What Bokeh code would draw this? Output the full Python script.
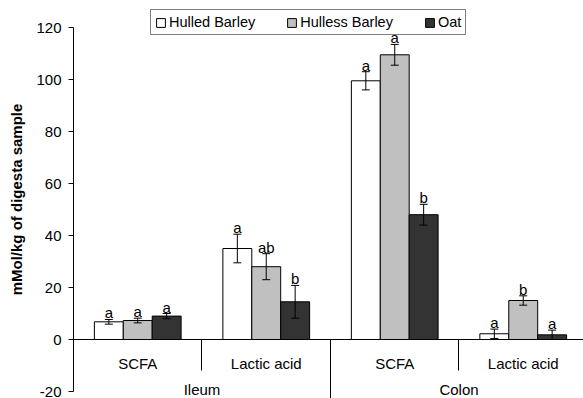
import numpy as np
from bokeh.plotting import figure
from bokeh.models import (ColumnDataSource, Range1d, LinearAxis, FixedTicker,
                          Whisker, TeeHead, Legend, LegendItem)
from bokeh.core.properties import value
from bokeh.embed import file_html
from bokeh.resources import INLINE

# ---------------- data ----------------
sites = ["Ileum", "Ileum", "Colon", "Colon"]
acids = ["SCFA", "Lactic acid", "SCFA", "Lactic acid"]
series = ["Hulled Barley", "Hulless Barley", "Oat"]

hulled = [6.8, 35.0, 99.5, 2.2]
hulled_err = [0.9, 5.5, 3.5, 1.8]
hulless = [7.3, 28.0, 109.5, 15.0]
hulless_err = [0.9, 5.0, 4.0, 1.8]
oat = [9.0, 14.5, 48.0, 1.8]
oat_err = [1.0, 6.3, 4.0, 1.8]

hulled_sig = ["a", "a", "a", "a"]
hulless_sig = ["a", "ab", "a", "b"]
oat_sig = ["a", "b", "b", "a"]

y_ticks = [-20, 0, 20, 40, 60, 80, 100, 120]

# ---------------- styling ----------------
FONT = "Liberation Sans"
colors = ["#FFFFFF", "#C0C0C0", "#333333"]
bar_w = 0.225

pos = np.arange(len(acids))
offsets = (np.arange(len(series)) - (len(series) - 1) / 2) * bar_w

inner_bounds = [i - 0.5 for i in range(1, len(sites)) if sites[i] == sites[i - 1]]
site_bounds = [i - 0.5 for i in range(1, len(sites)) if sites[i] != sites[i - 1]]
site_names = list(dict.fromkeys(sites))
site_centers = [float(np.mean([p_ for p_, s in zip(pos, sites) if s == n])) for n in site_names]

# frame spans the whole canvas height so nothing drawn in it is clipped;
# -20 .. 120 keeps 2.6 px per unit with 120 at 27 px and -20 at 391 px
px_per_unit = 364 / 140.0
y_lo = min(y_ticks) - 7 / px_per_unit
y_hi = max(y_ticks) + 27 / px_per_unit

p = figure(frame_width=510, frame_height=398,
           x_range=Range1d(-0.5, 3.469), y_range=Range1d(y_lo, y_hi),
           output_backend="svg", toolbar_location=None, x_axis_location=None,
           min_border_left=73, min_border_right=0, min_border_top=0, min_border_bottom=0)
p.grid.visible = False
p.outline_line_color = None
p.background_fill_color = "white"

# y axis
ya = p.yaxis[0]
ya.ticker = FixedTicker(ticks=y_ticks)
ya.bounds = (min(y_ticks), max(y_ticks))
ya.major_label_overrides = {t: str(t) for t in y_ticks}
ya.major_tick_in = 0
ya.major_tick_out = 5
ya.minor_tick_line_color = None
ya.axis_line_color = "black"
ya.major_tick_line_color = "black"
ya.major_label_text_font = FONT
ya.major_label_text_font_size = "15px"
ya.major_label_text_color = "black"
ya.major_label_standoff = 7
ya.axis_label = "mMol/kg of digesta sample"
ya.axis_label_text_font = FONT
ya.axis_label_text_font_size = "15px"
ya.axis_label_text_font_style = "bold"
ya.axis_label_text_color = "black"
ya.axis_label_standoff = 8

values = [hulled, hulless, oat]
errors = [hulled_err, hulless_err, oat_err]
sigs = [hulled_sig, hulless_sig, oat_sig]

renderers = []
for k, name in enumerate(series):
    v = np.array(values[k], dtype=float)
    e = np.array(errors[k], dtype=float)
    src = ColumnDataSource(dict(x=pos + offsets[k], top=v, upper=v + e, lower=v - e, sig=sigs[k]))
    r = p.vbar(x="x", top="top", bottom=0, width=bar_w, source=src,
               fill_color=colors[k], line_color="black", line_width=1)
    renderers.append(r)
    w = Whisker(source=src, base="x", upper="upper", lower="lower", dimension="height",
                line_color="black", line_width=1, level="annotation",
                upper_head=TeeHead(size=8, line_color="black", line_width=1),
                lower_head=TeeHead(size=8, line_color="black", line_width=1))
    p.add_layout(w)
    p.text(x="x", y="upper", text="sig", source=src, text_align="center",
           text_baseline="bottom", y_offset=2,
           text_font=value(FONT), text_font_size=value("15px"), text_color="black")

# bottom axes, all fixed at y = 0
ax_line = LinearAxis(fixed_location=0, ticker=FixedTicker(ticks=inner_bounds),
                     major_tick_in=0, major_tick_out=31, major_tick_line_color="black",
                     minor_tick_line_color=None, axis_line_color="black",
                     major_label_text_color=None)
ax_long = LinearAxis(fixed_location=0, ticker=FixedTicker(ticks=site_bounds),
                     major_tick_in=0, major_tick_out=62, major_tick_line_color="black",
                     minor_tick_line_color=None, axis_line_color=None,
                     major_label_text_color=None)
ax_sub = LinearAxis(fixed_location=0, ticker=FixedTicker(ticks=[float(x) for x in pos]),
                    major_label_overrides={float(i): a for i, a in zip(pos, acids)},
                    major_tick_in=0, major_tick_out=0, major_tick_line_color=None,
                    minor_tick_line_color=None, axis_line_color=None,
                    major_label_standoff=15, major_label_text_font=FONT,
                    major_label_text_font_size="15px", major_label_text_color="black")
ax_site = LinearAxis(fixed_location=0, ticker=FixedTicker(ticks=site_centers),
                     major_label_overrides={c: n for c, n in zip(site_centers, site_names)},
                     major_tick_in=0, major_tick_out=0, major_tick_line_color=None,
                     minor_tick_line_color=None, axis_line_color=None,
                     major_label_standoff=41, major_label_text_font=FONT,
                     major_label_text_font_size="15px", major_label_text_color="black")
for ax in (ax_line, ax_long, ax_sub, ax_site):
    p.add_layout(ax, "below")

legend = Legend(items=[LegendItem(label=s, renderers=[r]) for s, r in zip(series, renderers)],
                orientation="horizontal", location=(77, 363),
                glyph_width=11, glyph_height=11, label_standoff=3, spacing=31,
                padding=4, margin=0, label_height=16,
                border_line_color="black", border_line_width=1,
                background_fill_color="white", background_fill_alpha=1,
                label_text_font=FONT, label_text_font_size="14.5px", label_text_color="black")
p.add_layout(legend, "center")

open("out.html", "w").write(file_html(p, INLINE))
